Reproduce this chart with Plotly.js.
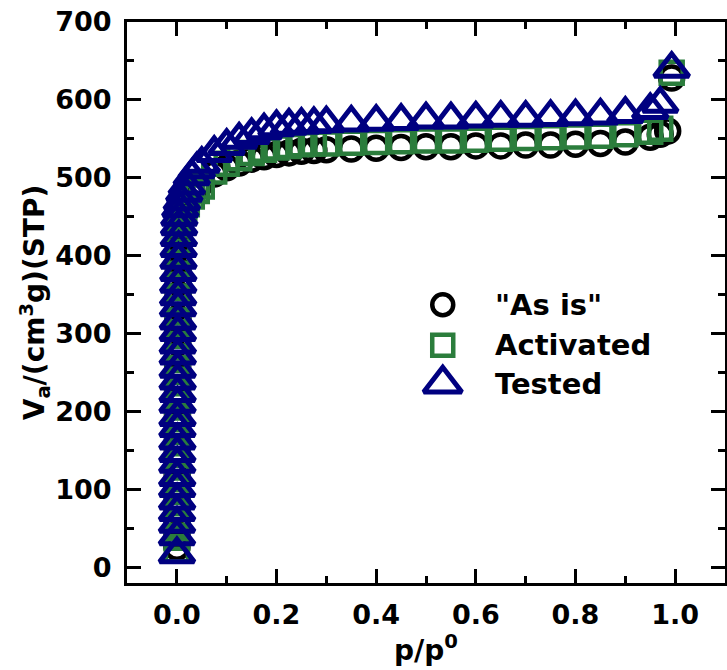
<!DOCTYPE html>
<html>
<head>
<meta charset="utf-8">
<script src="https://cdn.plot.ly/plotly-3.0.1.min.js"></script>
<style>html,body{margin:0;padding:0;background:#fff;}#chart{width:727px;height:670px;}</style>
</head>
<body>
<div id="chart"></div>
<script>
// ---- data ----
const seriesNames = ['"As is"', 'Activated', 'Tested'];

const asIsP = [0.0002,0.0003,0.0004,0.0005,0.0006,0.0007,0.0008,0.0009,0.0010,0.0011,0.0012,0.0013,0.0014,0.0015,0.0016,0.0017,0.0018,0.0019,0.0020,0.0022,0.0024,0.0026,0.0028,0.0030,0.0033,0.0036,0.0040,0.0045,
  0.005,0.007,0.01,0.015,0.02,0.03,0.04,0.05,0.075,0.1,0.125,0.15,0.175,0.2,0.225,0.25,0.275,0.3,0.35,0.4,0.45,0.5,0.55,0.6,0.65,0.7,0.75,0.8,0.85,0.9,0.95,0.97,0.985,0.993];
const asIsV = [26,42,57,73,88,104,119,135,150,165,181,196,212,227,242,258,273,289,304,319,335,350,366,381,396,410,418,427,
  436,446,454,463,470,480,488,494,505,513,519,524,527,530,532,534,535,536,537,538,539,540,540,541,541,542,542,543,544,546,552,556,560,628];

const actP = [0.0002,0.0003,0.0004,0.0005,0.0006,0.0007,0.0008,0.0009,0.0010,0.0011,0.0012,0.0013,0.0014,0.0015,0.0016,0.0017,0.0018,0.0019,0.0020,0.0022,0.0024,0.0026,0.0028,0.0030,0.0033,0.0036,0.0040,0.0045,
  0.005,0.007,0.01,0.015,0.02,0.03,0.04,0.05,0.075,0.1,0.125,0.15,0.175,0.2,0.225,0.25,0.275,0.3,0.35,0.4,0.45,0.5,0.55,0.6,0.65,0.7,0.75,0.8,0.85,0.9,0.95,0.97,0.993];
const actV = [22,38,54,69,85,100,116,131,146,162,177,192,208,223,238,254,269,284,299,315,330,345,361,376,391,405,418,430,
  440,448,455,461,466,476,483,489,508,518,525,532,536,539,541,543,544,544,545,546,547,548,548,549,550,551,552,553,554,556,559,563,635];

const testP = [0.0002,0.0003,0.0004,0.0005,0.0006,0.0007,0.0008,0.0009,0.0010,0.0011,0.0012,0.0013,0.0014,0.0015,0.0016,0.0017,0.0018,0.0019,0.0020,0.0022,0.0024,0.0026,0.0028,0.0030,0.0033,0.0036,0.0040,0.0045,
  0.005,0.007,0.01,0.015,0.02,0.03,0.04,0.05,0.075,0.1,0.125,0.15,0.175,0.2,0.225,0.25,0.275,0.3,0.35,0.4,0.45,0.5,0.55,0.6,0.65,0.7,0.75,0.8,0.85,0.9,0.95,0.97,0.993];
const testV = [17,40,56,71,86,102,116,133,147,163,179,193,210,224,240,255,272,286,302,317,334,348,364,379,395,410,424,438,
  450,461,470,481,490,502,511,518,532,541,549,555,561,565,567,568,569,570,571,572,573,575,575,576,577,577,578,579,580,582,587,595,640];

const xTickVals = [0, 0.2, 0.4, 0.6, 0.8, 1.0];
const xTickText = ['0.0','0.2','0.4','0.6','0.8','1.0'];
const yTickVals = [0,100,200,300,400,500,600,700];

// ---- styles ----
const colors = ['#000000', '#2b7d3c', '#000080'];
const symbols = ['circle-open', 'square-open', 'triangle-up-open'];
const sizes = [23, 22, 30];
const legendSizes = [21, 21, 33];
const lineW = [4.5, 4.5, 5];
const FONT = 'DejaVu Sans';

const xs = [asIsP, actP, testP];
const ys = [asIsV, actV, testV];

const traces = [];
for (let i = 0; i < 3; i++) {
  traces.push({
    type: 'scatter', mode: 'markers', name: seriesNames[i],
    x: xs[i], y: ys[i], cliponaxis: false,
    marker: {symbol: symbols[i], size: sizes[i], color: colors[i],
             line: {color: colors[i], width: lineW[i]}},
    hoverinfo: 'x+y'
  });
}

// custom legend (large symbols) on a hidden overlay axis
const legX = 0.528, legTextX = 0.612;
const legRows = [0.496, 0.424, 0.355];
const annotations = [];
for (let i = 0; i < 3; i++) {
  traces.push({
    type: 'scatter', mode: 'markers', xaxis: 'x2', yaxis: 'y2', showlegend: false,
    x: [legX], y: [legRows[i]], hoverinfo: 'skip', cliponaxis: false,
    marker: {symbol: symbols[i], size: legendSizes[i], color: colors[i],
             line: {color: colors[i], width: lineW[i]}}
  });
  annotations.push({
    xref: 'x2', yref: 'y2', x: legTextX, y: legRows[i], xanchor: 'left', yanchor: 'middle',
    text: seriesNames[i], showarrow: false,
    font: {family: FONT, size: 29, color: '#000', weight: 'bold'}
  });
}

const tickFont = {family: FONT, size: 27, color: '#000', weight: 'bold'};
const titleFont = {family: FONT, size: 28, color: '#000', weight: 'bold'};

const layout = {
  width: 727, height: 670,
  margin: {l: 127, r: 2, t: 22, b: 87, pad: 0},
  paper_bgcolor: '#fff', plot_bgcolor: '#fff',
  showlegend: false,
  font: {family: FONT, color: '#000'},
  xaxis: {
    range: [-0.1, 1.1], tickvals: xTickVals, ticktext: xTickText,
    ticks: 'inside', ticklen: 14, tickwidth: 3, tickcolor: '#000',
    showline: true, linewidth: 3, linecolor: '#000', mirror: 'ticks',
    showgrid: false, zeroline: false, tickfont: tickFont, ticklabelstandoff: 6,
    minor: {dtick: 0.1, tick0: 0, ticks: 'inside', ticklen: 7, tickwidth: 3, tickcolor: '#000', showgrid: false},
    title: {text: 'p/p<sup>0</sup>', font: titleFont, standoff: 4}
  },
  yaxis: {
    range: [-20, 700], tickvals: yTickVals,
    ticks: 'inside', ticklen: 14, tickwidth: 3, tickcolor: '#000',
    showline: true, linewidth: 3, linecolor: '#000', mirror: 'ticks',
    showgrid: false, zeroline: false, tickfont: tickFont, ticklabelstandoff: 7,
    minor: {dtick: 50, tick0: 0, ticks: 'inside', ticklen: 7, tickwidth: 3, tickcolor: '#000', showgrid: false},
    title: {text: 'V<sub>a</sub>/(cm<sup>3</sup>g)(STP)', font: titleFont, standoff: 0}
  },
  xaxis2: {range: [0, 1], overlaying: 'x', anchor: 'y2', visible: false, fixedrange: true},
  yaxis2: {range: [0, 1], overlaying: 'y', anchor: 'x2', visible: false, fixedrange: true},
  annotations: annotations
};

Plotly.newPlot('chart', traces, layout, {staticPlot: true});
</script>
</body>
</html>
